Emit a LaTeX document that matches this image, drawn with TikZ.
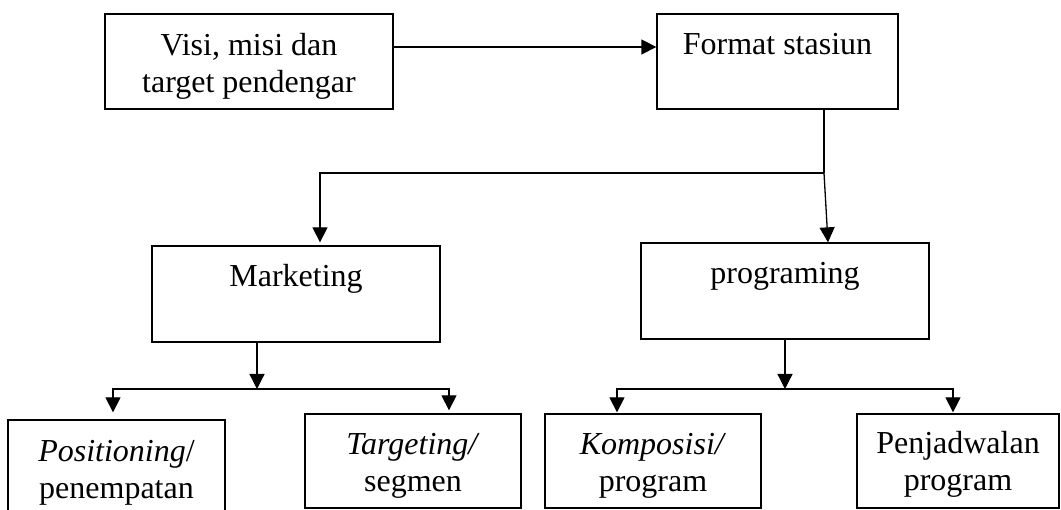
\documentclass[tikz,border=0pt]{standalone}
\usepackage{fontspec}
\setmainfont{Liberation Serif}
\usetikzlibrary{arrows.meta}
\begin{document}
\begin{tikzpicture}[x=1pt,y=-1pt,line width=1.3pt,
  box/.style={draw,rectangle,inner sep=0pt,line width=1.3pt},
  lbl/.style={font=\fontsize{32}{37}\selectfont,align=center,inner sep=0pt},
  arr/.style={-{Triangle[length=15pt,width=15pt]}}]
\clip (0,0) rectangle (1061,510);
\fill[white] (0,0) rectangle (1061,510);
% boxes
\node[box,minimum width=288pt,minimum height=95pt] (b1) at (249,61.5) {};
\node[box,minimum width=241pt,minimum height=95pt] (b2) at (777.5,61.5) {};
\node[box,minimum width=288pt,minimum height=96pt] (mk) at (296,294) {};
\node[box,minimum width=288pt,minimum height=96pt] (pg) at (785,291) {};
\node[box,minimum width=217pt,minimum height=94pt] (pos) at (116.5,467) {};
\node[box,minimum width=216pt,minimum height=94pt] (tg) at (413,461) {};
\node[box,minimum width=216pt,minimum height=94pt] (kp) at (653,461) {};
\node[box,minimum width=202pt,minimum height=94pt] (pj) at (958,461) {};
% texts
\node[lbl] (t1) at (249,66) {Visi, misi dan\\target pendengar};
\node[lbl,anchor=base] (t2) at (777.5,55) {Format stasiun};
\node[lbl,anchor=base] (t3) at (296,287) {Marketing};
\node[lbl,anchor=base] (t4) at (785,284) {programing};
\node[lbl] (t5) at (116.5,473) {\textit{Positioning}/\\penempatan};
\node[lbl] (t6) at (413,466) {\textit{Targeting/}\\segmen};
\node[lbl] (t7) at (653,466) {\textit{Komposisi/}\\program};
\node[lbl] (t8) at (958,464) {Penjadwalan\\program};
% connectors
\draw[arr] ([yshift=14.5pt]b1.east) -- ([yshift=14.5pt]b2.west);
\coordinate (j1) at (824,173);
\draw ([xshift=46.5pt]b2.south) -- (j1);
\draw[arr] (j1) -| ([xshift=24pt,yshift=3pt]mk.north);
\draw[arr] (j1) -- ([xshift=43pt]pg.north);
\coordinate (j2) at (257,389);
\draw[arr] ([xshift=-39pt]mk.south) -- (j2);
\draw[arr] (j2) -| ([xshift=-3.5pt,yshift=7pt]pos.north);
\draw[arr] (j2) -| ([xshift=36pt,yshift=3pt]tg.north);
\coordinate (j3) at (785,389);
\draw[arr] (pg.south) -- (j3);
\draw[arr] (j3) -| ([xshift=-36pt,yshift=1pt]kp.north);
\draw[arr] (j3) -| ([xshift=-5pt,yshift=1pt]pj.north);
\end{tikzpicture}
\end{document}
